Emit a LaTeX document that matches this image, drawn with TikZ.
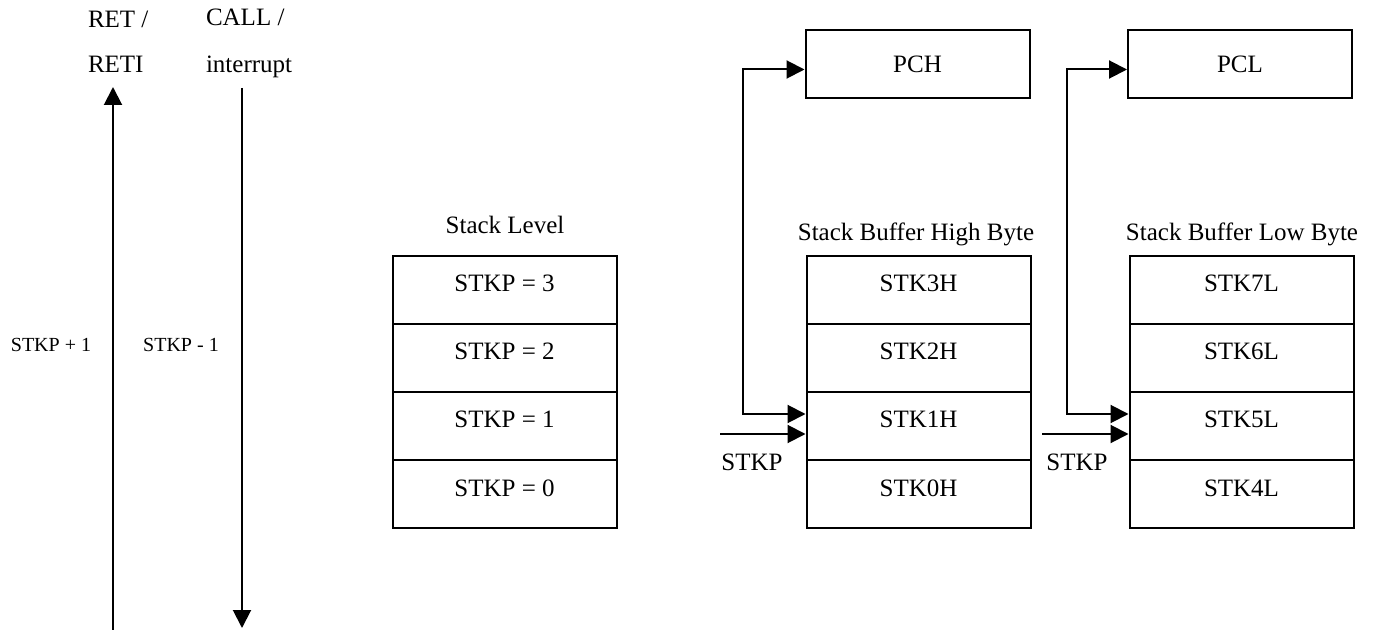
\documentclass[tikz,border=0pt]{standalone}
\usepackage{fontspec}
\setmainfont{Liberation Serif}
\usetikzlibrary{arrows.meta, positioning}

\tikzset{
	cell/.style={draw, minimum width=112pt, minimum height=34pt, inner sep=0pt, text height=8pt, text depth=6pt, font=\fontsize{12.5}{15}\selectfont},
	pcbox/.style={draw, minimum width=112pt, minimum height=34pt, font=\fontsize{12.5}{15}\selectfont},
	lbl/.style={anchor=base, inner sep=0pt, font=\fontsize{12.5}{15}\selectfont},
	small/.style={anchor=base, inner sep=0pt, font=\fontsize{10}{12}\selectfont},
}

\begin{document}
\begin{tikzpicture}[x=0.5pt, y=-0.5pt, >={Triangle[length=9pt,width=9pt]}, line width=1pt]
		\useasboundingbox (0,0) rectangle (1375,630);

		% Push / pop direction
		\coordinate (upbot) at (113,630);
		\coordinate (uptop) at (113,87);
		\coordinate (dntop) at (242,88);
		\coordinate (dnbot) at (242,628);
		\draw[->] (upbot) -- (uptop);
		\draw[->] (dntop) -- (dnbot);
		\node[lbl, anchor=base west] (ret) at (87,28) {RET /};
		\node[lbl, anchor=base west] (reti) at (87,73) {RETI};
		\node[lbl, anchor=base west] (call) at (205,26) {CALL /};
		\node[lbl, anchor=base west] (intr) at (205,73) {interrupt};
		\node[small] (inc) at (51,351) {STKP + 1};
		\node[small] (dec) at (181,351) {STKP - 1};

		% Stack level
		\node[lbl] (lvltitle) at (505,234) {Stack Level};
		\foreach \i/\r in {3/0,2/1,1/2,0/3}
			\node[cell] (lvl\i) at (504.5,{290+68*\r}) {STKP = \i};

		% High byte buffer
		\node[lbl] (hititle) at (916,241) {Stack Buffer High Byte};
		\foreach \i/\r in {3/0,2/1,1/2,0/3}
			\node[cell] (stkh\i) at (918.5,{290+68*\r}) {STK\i H};
		\node[pcbox] (pch) at (917.5,64) {PCH};
		\draw[<->] ([yshift=-2.75pt]pch.west) -- ++(-62,0) |- ([yshift=6pt]stkh1.west);
		\coordinate (hin) at (720,434);
		\draw[->] (hin) -- (hin -| stkh1.west);
		\node[lbl] (hstkp) at (752,470) {STKP};

		% Low byte buffer
		\node[lbl] (lotitle) at (1242,241) {Stack Buffer Low Byte};
		\foreach \i/\r in {7/0,6/1,5/2,4/3}
			\node[cell] (stkl\i) at (1241.5,{290+68*\r}) {STK\i L};
		\node[pcbox] (pcl) at (1240,64) {PCL};
		\draw[<->] ([yshift=-2.75pt]pcl.west) -- ++(-60,0) |- ([yshift=6pt]stkl5.west);
		\coordinate (lin) at (1042,434);
		\draw[->] (lin) -- (lin -| stkl5.west);
		\node[lbl] (lstkp) at (1077,470) {STKP};
	\end{tikzpicture}
\end{document}
